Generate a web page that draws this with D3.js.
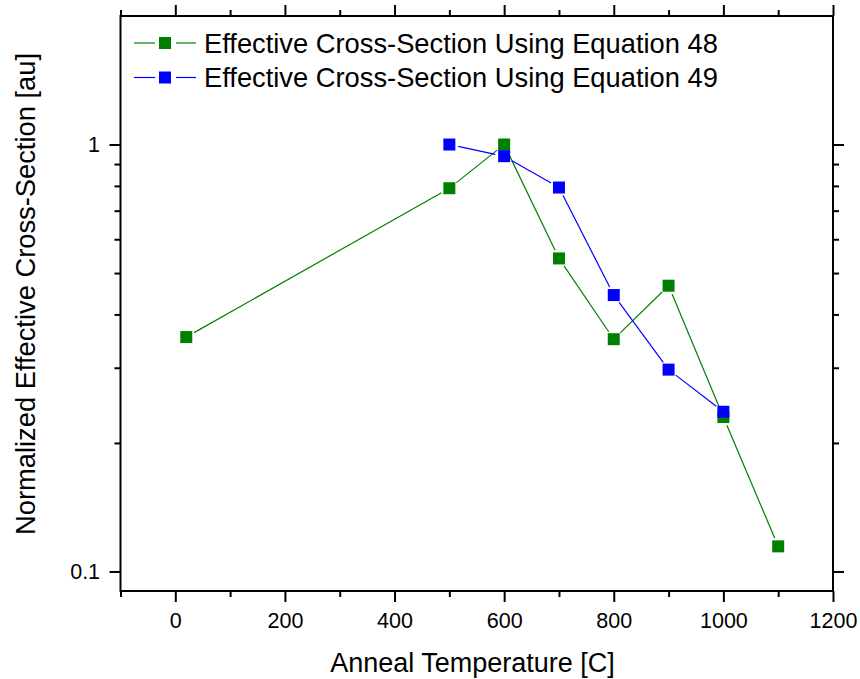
<!DOCTYPE html>
<html>
<head>
<meta charset="utf-8">
<script src="https://cdn.jsdelivr.net/npm/d3@7"></script>
<style>
  html, body { margin: 0; padding: 0; background: #fff; }
  svg text { font-family: "Liberation Sans", Arial, sans-serif; fill: #000; }
</style>
</head>
<body>
<svg id="chart" width="860" height="679"></svg>
<script>
// valores
const temps48 = [20, 500, 600, 700, 800, 900, 1000, 1100];
const vals48  = [0.354, 0.79, 1.0, 0.541, 0.35, 0.467, 0.230, 0.1145];
const temps49 = [500, 600, 700, 800, 900, 1000];
const vals49  = [1.0, 0.939, 0.793, 0.444, 0.297, 0.2366];
const xTicks = [0, 200, 400, 600, 800, 1000, 1200];
const yTicks = [0.1, 1];
const yMinor = [0.2, 0.3, 0.4, 0.5, 0.6, 0.7, 0.8, 0.9];

const series = [
  { nome: "Effective Cross-Section Using Equation 48", cor: "#008000", xs: temps48, ys: vals48 },
  { nome: "Effective Cross-Section Using Equation 49", cor: "#0000ff", xs: temps49, ys: vals49 }
];

const L = 120.5, R = 833, T = 16, B = 591;
const svg = d3.select("#chart");

const x = d3.scaleLinear().domain([-100, 1200]).range([L, R]);
const y = d3.scaleLog().domain([0.09, 2]).range([B, T]);

const xMinor = d3.range(-100, 1201, 100).filter(v => v % 200 !== 0);

// eixos nos quatro lados
function eixoX(gen, ty, ticks, size, rotulos) {
  const g = svg.append("g").attr("transform", `translate(0,${ty})`)
    .call(gen(x).tickValues(ticks).tickSize(size).tickSizeOuter(0)
      .tickFormat(rotulos ? d3.format("d") : ""));
  g.select(".domain").remove();
  g.selectAll("line").attr("stroke", "#000").attr("stroke-width", 2);
  g.selectAll("text").attr("font-size", 21.5).attr("dy", "1.05em");
  return g;
}
function eixoY(gen, tx, ticks, size, rotulos) {
  const g = svg.append("g").attr("transform", `translate(${tx},0)`)
    .call(gen(y).tickValues(ticks).tickSize(size).tickSizeOuter(0)
      .tickFormat(rotulos ? (d => d3.format("~g")(d)) : ""));
  g.select(".domain").remove();
  g.selectAll("line").attr("stroke", "#000").attr("stroke-width", 2);
  g.selectAll("text").attr("font-size", 21.5).attr("dx", "-0.3em");
  return g;
}

eixoX(d3.axisBottom, B, xTicks, 11, true);
eixoX(d3.axisBottom, B, xMinor, 6, false);
eixoX(d3.axisTop, T, xTicks, 11, false);
eixoX(d3.axisTop, T, xMinor, 6, false);
eixoY(d3.axisLeft, L, yTicks, 11, true);
eixoY(d3.axisLeft, L, yMinor, 6, false);
eixoY(d3.axisRight, R, yTicks, 11, false);
eixoY(d3.axisRight, R, yMinor, 6, false);

svg.append("rect")
  .attr("x", L).attr("y", T).attr("width", R - L).attr("height", B - T)
  .attr("fill", "none").attr("stroke", "#000").attr("stroke-width", 2);

// séries: segmentos com pequeno espaço perto dos marcadores
const gap = 9, lado = 12;
series.forEach(s => {
  const pts = s.xs.map((v, i) => [x(v), y(s.ys[i])]);
  const g = svg.append("g");
  d3.pairs(pts).forEach(([a, b]) => {
    const dx = b[0] - a[0], dy = b[1] - a[1];
    const len = Math.hypot(dx, dy);
    if (len <= 2 * gap) return;
    const ux = dx / len, uy = dy / len;
    g.append("line")
      .attr("x1", a[0] + ux * gap).attr("y1", a[1] + uy * gap)
      .attr("x2", b[0] - ux * gap).attr("y2", b[1] - uy * gap)
      .attr("stroke", s.cor).attr("stroke-width", 1.2);
  });
  g.selectAll("rect").data(pts).enter().append("rect")
    .attr("x", d => d[0] - lado / 2).attr("y", d => d[1] - lado / 2)
    .attr("width", lado).attr("height", lado)
    .attr("fill", s.cor);
});

// legenda
series.forEach((s, i) => {
  const ly = 43 + i * 34.5;
  const g = svg.append("g");
  g.append("line").attr("x1", 134).attr("x2", 155).attr("y1", ly).attr("y2", ly)
    .attr("stroke", s.cor).attr("stroke-width", 1.2);
  g.append("line").attr("x1", 176).attr("x2", 196).attr("y1", ly).attr("y2", ly)
    .attr("stroke", s.cor).attr("stroke-width", 1.2);
  g.append("rect").attr("x", 165 - lado / 2).attr("y", ly - lado / 2)
    .attr("width", lado).attr("height", lado).attr("fill", s.cor);
  g.append("text").attr("x", 204).attr("y", ly).attr("dy", "0.36em")
    .attr("font-size", 27.3).text(s.nome);
});

// títulos dos eixos
svg.append("text")
  .attr("x", 472.5).attr("y", 672)
  .attr("text-anchor", "middle").attr("font-size", 27)
  .text("Anneal Temperature [C]");
svg.append("text")
  .attr("transform", `translate(35,294) rotate(-90)`)
  .attr("text-anchor", "middle").attr("font-size", 27.3)
  .text("Normalized Effective Cross-Section [au]");
</script>
</body>
</html>
